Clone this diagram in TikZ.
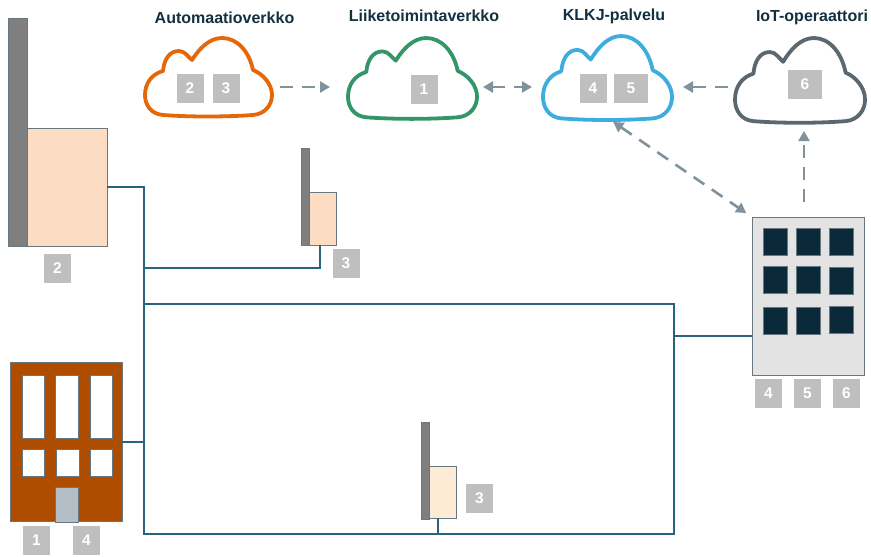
\documentclass[tikz,border=0pt]{standalone}
\usepackage{xcolor}
\usepackage{fontspec}
\setmainfont{Liberation Sans}
\usetikzlibrary{arrows.meta}
\definecolor{titleink}{RGB}{18, 48, 63}
\definecolor{netteal}{RGB}{40, 100, 125}
\definecolor{dashgray}{RGB}{128, 146, 156}
\definecolor{edgegray}{RGB}{105, 120, 128}
\definecolor{badgegray}{RGB}{191, 191, 191}
\definecolor{cloudorange}{RGB}{228, 103, 8}
\definecolor{cloudgreen}{RGB}{50, 150, 105}
\definecolor{cloudblue}{RGB}{62, 172, 220}
\definecolor{cloudslate}{RGB}{92, 104, 112}
\definecolor{chimneygray}{RGB}{127, 127, 127}
\definecolor{peachbig}{RGB}{253, 220, 196}
\definecolor{peachlow}{RGB}{254, 235, 214}
\definecolor{brick}{RGB}{174, 76, 0}
\definecolor{doorgray}{RGB}{180, 190, 196}
\definecolor{officegray}{RGB}{227, 227, 227}
\definecolor{officedark}{RGB}{11, 42, 57}
\tikzset{
  titlelabel/.style={text=titleink, font=\bfseries\fontsize{16}{18}\selectfont, inner sep=0pt},
  badge/.style={fill=badgegray, text=white, font=\bfseries\fontsize{15.5}{18}\selectfont, inner sep=0pt, minimum width=27pt, minimum height=29pt},
  widebadge/.style={badge, minimum width=34pt},
  cloudbox/.style={inner sep=0pt, outer sep=0pt, minimum width=#1, minimum height=80pt},
  block/.style={draw=edgegray, line width=1pt, inner sep=0pt, outer sep=0pt},
  netline/.style={draw=netteal, line width=1.3pt},
  dashlink/.style={draw=dashgray, line width=2.6pt, dash pattern=on 13pt off 9pt},
  redwindow/.style={block, fill=white, minimum width=22.5pt},
  darkwindow/.style={block, fill=officedark, minimum width=24pt, minimum height=27pt},
  cloudpic/.pic={
    \draw[pic actions, line width=3.8pt, line join=round]
      (18,77) .. controls (6,76) and (0,67) .. (0,57)
      .. controls (0,45) and (7,36) .. (18,33)
      .. controls (19,22) and (24,13) .. (34,13)
      .. controls (40,13) and (43,19) .. (47,22)
      .. controls (54,11) and (64,0) .. (77,0)
      .. controls (92,0) and (104,13) .. (108,32)
      .. controls (118,36) and (127,46) .. (127,57)
      .. controls (127,67) and (120,76) .. (108,77)
      .. controls (80,79) and (45,79) .. (18,77) -- cycle;
  }
}
\begin{document}
\begin{tikzpicture}[x=1pt, y=-1pt, >={Triangle[length=10pt, width=11pt]}]
  \useasboundingbox (0,0) rectangle (871,557);

  % clouds
  \node[cloudbox=127pt] (autocloud) at (208.5,78) {};
  \node[cloudbox=129pt] (bizcloud) at (412.5,78) {};
  \node[cloudbox=129pt] (klkjcloud) at (607.5,78) {};
  \node[cloudbox=130pt] (iotcloud) at (800,80) {};
  \pic[draw=cloudorange] at (autocloud.north west) {cloudpic};
  \pic[draw=cloudgreen, xscale=1.016, yscale=1.03] at (bizcloud.north west) {cloudpic};
  \pic[draw=cloudblue, xscale=1.016, yscale=1.07] at ([yshift=2pt]klkjcloud.north west) {cloudpic};
  \pic[draw=cloudslate, xscale=1.024, yscale=1.08] at ([yshift=2pt]iotcloud.north west) {cloudpic};

  \node[titlelabel] (autotitle) at (224.5,18) {Automaatioverkko};
  \node[titlelabel] (biztitle) at (424,16) {Liiketoimintaverkko};
  \node[titlelabel] (klkjtitle) at (614,16) {KLKJ-palvelu};
  \node[titlelabel] (iottitle) at (812,17) {IoT-operaattori};

  \node[badge] (autotwo) at (190,88) {2};
  \node[badge] (autothree) at (226,88) {3};
  \node[badge] (bizone) at (424,89) {1};
  \node[badge] (klkjfour) at (593,88) {4};
  \node[widebadge] (klkjfive) at (631,88) {5};
  \node[widebadge] (iotsix) at (805,84) {6};

  % buildings
  \node[block, fill=chimneygray, minimum width=19pt, minimum height=228pt] (bigstack) at (17.5,132) {};
  \node[block, fill=peachbig, minimum width=80pt, minimum height=118pt] (bigbody) at (67,187) {};
  \node[badge] (bigbadge) at (57.5,268.5) {2};

  \node[block, fill=chimneygray, minimum width=8pt, minimum height=97pt] (smallstack) at (305,196.5) {};
  \node[block, fill=peachbig, minimum width=27pt, minimum height=53pt] (smallbody) at (322.5,218.5) {};
  \node[badge] (smallbadge) at (346,263.5) {3};

  \node[block, fill=chimneygray, minimum width=8pt, minimum height=97pt] (lowstack) at (425,470.5) {};
  \node[block, fill=peachlow, minimum width=27pt, minimum height=52pt] (lowbody) at (442.5,492) {};
  \node[badge] (lowbadge) at (479.5,498) {3};

  \node[block, fill=brick, minimum width=112pt, minimum height=159pt] (redhouse) at (66,442) {};
  \node[redwindow, minimum height=63pt] (redwina) at (33.5,406.5) {};
  \node[redwindow, minimum height=63pt] (redwinb) at (67,406.5) {};
  \node[redwindow, minimum height=63pt] (redwinc) at (101.5,406.5) {};
  \node[redwindow, minimum height=27pt] (redwind) at (33.5,462.5) {};
  \node[redwindow, minimum height=27pt] (redwine) at (68,462.5) {};
  \node[redwindow, minimum height=27pt] (redwinf) at (101.5,462.5) {};
  \node[block, fill=doorgray, minimum width=22.5pt, minimum height=35pt] (reddoor) at (67,504.5) {};
  \node[badge] (redone) at (36.5,540.5) {1};
  \node[badge] (redfour) at (86.5,540.5) {4};

  \node[block, fill=officegray, minimum width=112pt, minimum height=158pt] (office) at (808,296) {};
  \node[darkwindow] (offwina) at (775,241.5) {};
  \node[darkwindow] (offwinb) at (808,241.5) {};
  \node[darkwindow] (offwinc) at (841.5,241.5) {};
  \node[darkwindow] (offwind) at (775,279.5) {};
  \node[darkwindow] (offwine) at (808,279.5) {};
  \node[darkwindow] (offwinf) at (841.5,280.5) {};
  \node[darkwindow] (offwing) at (775,320.5) {};
  \node[darkwindow] (offwinh) at (808,320.5) {};
  \node[darkwindow] (offwini) at (841,320) {};
  \node[badge] (offfour) at (768.5,393.5) {4};
  \node[badge] (offfive) at (807.5,393.5) {5};
  \node[badge] (offsix) at (846.5,393.5) {6};

  % wiring
  \coordinate (trunktop) at (144,187);
  \coordinate (trunkbot) at (144,534);
  \coordinate (loopne) at (674,304);
  \coordinate (loopse) at (674,534);
  \coordinate (looptap) at (144,304);
  \coordinate (redtap) at (144,442);
  \coordinate (smalltap) at (320,268);
  \coordinate (smallend) at (145,268);
  \coordinate (lowtap) at (438,534);
  \coordinate (officetap) at (674,336);

  \draw[netline] (bigbody.east) -- (trunktop) -- (trunkbot) -- (loopse) -- (loopne) -- (looptap);
  \draw[netline] (redhouse.east) -- (redtap);
  \draw[netline] (smallbody.south -| smalltap) -- (smalltap) -- (smallend);
  \draw[netline] (lowbody.south -| lowtap) -- (lowtap);
  \draw[netline] (officetap) -- (officetap -| office.west);

  % data links
  \draw[->, dashlink, shorten <=8pt, shorten >=18pt] ([yshift=-9pt]autocloud.east) -- ([yshift=-9pt]bizcloud.west);
  \draw[<->, dashlink, shorten <=6pt, shorten >=11pt] ([yshift=-9pt]bizcloud.east) -- ([yshift=-9pt]klkjcloud.west);
  \draw[->, dashlink, shorten <=7pt, shorten >=11pt] ([yshift=-7pt]iotcloud.west) -- ([yshift=-9pt]klkjcloud.east);
  \draw[->, dashlink, shorten <=15pt, shorten >=11pt] ([xshift=-4pt]office.north) -- ([xshift=4pt]iotcloud.south);
  \draw[<->, dashlink, shorten <=7pt, shorten >=7pt] (klkjcloud.south) -- (office.north west);
\end{tikzpicture}
\end{document}
